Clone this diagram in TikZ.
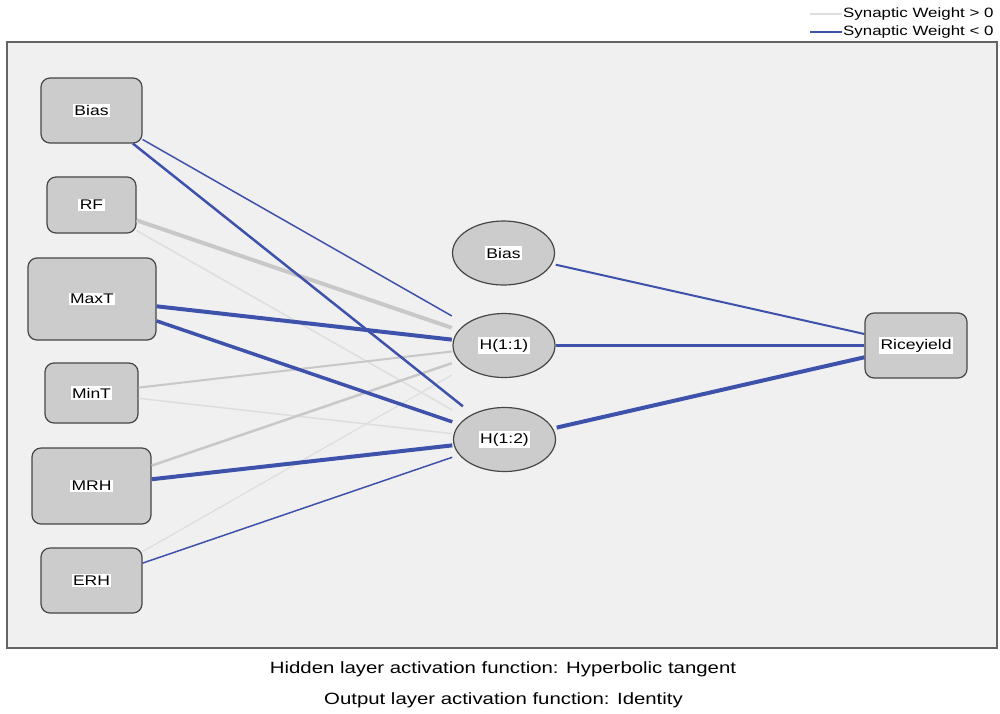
\documentclass[tikz,border=0pt]{standalone}
\usepackage{fontspec}
\setmainfont{Liberation Sans}[FakeStretch=1.25]
\newcommand{\lbl}[1]{{\setlength{\fboxsep}{1.5pt}\colorbox{white}{#1}}}
\definecolor{negblue}{RGB}{62,82,172}
\definecolor{posgray}{RGB}{200,200,200}
\definecolor{poslight}{RGB}{222,222,222}
\definecolor{nodegray}{RGB}{204,204,204}
\definecolor{nodeline}{RGB}{70,70,70}
\definecolor{panel}{RGB}{240,240,240}
\definecolor{framegray}{RGB}{100,100,100}
\begin{document}
\begin{tikzpicture}[
			x=1pt, y=-1pt,
			every node/.style={font=\fontsize{14}{16}\selectfont, inner sep=0pt},
			inbox/.style={rectangle, rounded corners=9pt, draw=nodeline, fill=nodegray, line width=1.2pt},
			hid/.style={rectangle, minimum width=104pt, minimum height=66pt,
				path picture={\filldraw[fill=nodegray, draw=nodeline, line width=1.2pt]
					(path picture bounding box.center) ellipse [x radius=51pt, y radius=32pt];}},
			negw/.style={draw=negblue},
			posw/.style={draw=posgray},
			poslw/.style={draw=poslight}
		]
			\useasboundingbox (0,0) rectangle (1000,713);
			\filldraw[fill=panel, draw=framegray, line width=2pt] (7,42) rectangle (997,648);

			\node[inbox, minimum width=101pt, minimum height=65pt] (bias) at (91.5,110.5) {\lbl{Bias}};
			\node[inbox, minimum width=89pt, minimum height=56pt] (rf) at (91.5,205) {\lbl{RF}};
			\node[inbox, minimum width=128pt, minimum height=82pt] (maxt) at (92,299) {\lbl{MaxT}};
			\node[inbox, minimum width=93pt, minimum height=60pt] (mint) at (91.5,393) {\lbl{MinT}};
			\node[inbox, minimum width=119pt, minimum height=76pt] (mrh) at (91.5,486) {\lbl{MRH}};
			\node[inbox, minimum width=101pt, minimum height=65pt] (erh) at (91.5,580.5) {\lbl{ERH}};

			\node[hid] (hbias) at (503.5,253) {\lbl{Bias}};
			\node[hid] (h11) at (504,345.5) {\lbl{H(1:1)}};
			\node[hid] (h12) at (504.5,439.5) {\lbl{H(1:2)}};

			\node[inbox, minimum width=102pt, minimum height=65pt] (rice) at (916,345.5) {\lbl{Riceyield}};

			\draw[poslw, line width=1.5pt] (rf) -- (h12);
			\draw[poslw, line width=1.2pt] (erh) -- (h11);
			\draw[poslw, line width=1.5pt] (mint) -- (h12);
			\draw[posw, line width=4pt] (rf) -- (h11);
			\draw[posw, line width=2pt] (mint) -- (h11);
			\draw[posw, line width=2.5pt] (mrh) -- (h11);
			\draw[negw, line width=1.5pt] (bias) -- (h11);
			\draw[negw, line width=2.5pt] (bias) -- (h12);
			\draw[negw, line width=4pt] (maxt) -- (h11);
			\draw[negw, line width=3.5pt] (maxt) -- (h12);
			\draw[negw, line width=4pt] (mrh) -- (h12);
			\draw[negw, line width=1.5pt] (erh) -- (h12);

			\draw[negw, line width=2pt] (hbias) -- (rice);
			\draw[negw, line width=3pt] (h11) -- (rice);
			\draw[negw, line width=4pt] (h12) -- (rice);

			\node[anchor=west, inner sep=1pt, font=\fontsize{13.5}{15}\selectfont] (legpos) at (842,14) {Synaptic Weight > 0};
			\node[anchor=west, inner sep=1pt, font=\fontsize{13.5}{15}\selectfont] (legneg) at (842,32) {Synaptic Weight < 0};
			\coordinate (legposend) at (810,14);
			\coordinate (legnegend) at (810,32);
			\draw[poslw, line width=1.2pt] (legposend) -- (legpos.west);
			\draw[negw, line width=1.5pt] (legnegend) -- (legneg.west);

			\node[font=\fontsize{16.3}{18}\selectfont] (hidnote) at (503,669) {Hidden layer activation function: Hyperbolic tangent};
			\node[font=\fontsize{16.3}{18}\selectfont] (outnote) at (503.5,700) {Output layer activation function: Identity};
		\end{tikzpicture}
\end{document}
